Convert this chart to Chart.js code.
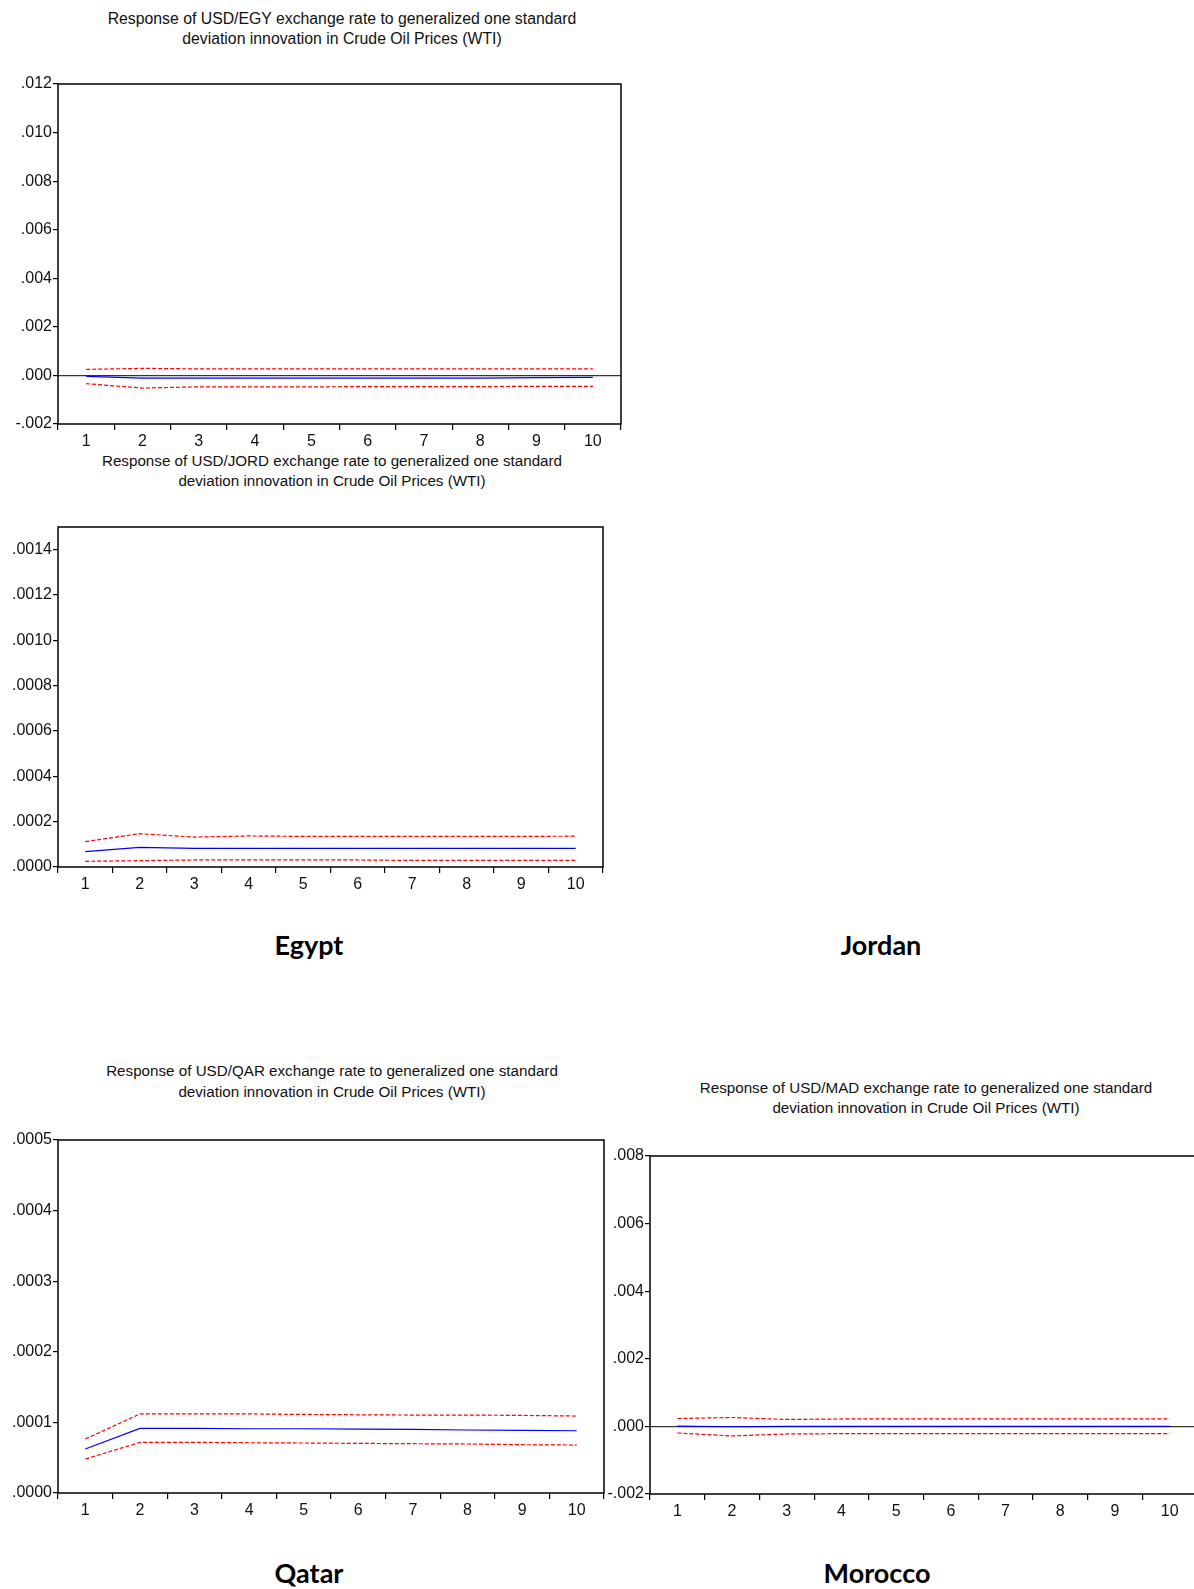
<!DOCTYPE html>
<html>
<head>
<meta charset="utf-8">
<script src="https://cdn.jsdelivr.net/npm/chart.js@4/dist/chart.umd.min.js"></script>
<style>
  html, body { margin: 0; padding: 0; background: #fff; overflow: hidden; }
  body { width: 1194px; height: 1589px; position: relative; }
  canvas { position: absolute; }
  .title { position: absolute; width: 640px; text-align: center; font-family: "Liberation Sans", Arial, sans-serif; font-size: 15.2px; color: #111; white-space: nowrap; }
  .country { position: absolute; width: 300px; text-align: center; font-family: Lato, "Noto Sans", sans-serif; font-weight: bold; font-size: 27px; line-height: 30px; color: #000; }
</style>
</head>
<body>

<div class="title" style="left:22px; top:9px; line-height:20px; font-size:15.8px;">Response of USD/EGY exchange rate to generalized one standard<br>deviation innovation in Crude Oil Prices (WTI)</div>
<div class="title" style="left:12px; top:451px; line-height:19.5px;">Response of USD/JORD exchange rate to generalized one standard<br>deviation innovation in Crude Oil Prices (WTI)</div>
<div class="title" style="left:12px; top:1060px; line-height:21px;">Response of USD/QAR exchange rate to generalized one standard<br>deviation innovation in Crude Oil Prices (WTI)</div>
<div class="title" style="left:606px; top:1078px; line-height:20px;">Response of USD/MAD exchange rate to generalized one standard<br>deviation innovation in Crude Oil Prices (WTI)</div>

<canvas id="egy" style="left:0px; top:60px;"></canvas>
<canvas id="jor" style="left:0px; top:500px;"></canvas>
<canvas id="qat" style="left:0px; top:1110px;"></canvas>
<canvas id="mor" style="left:590px; top:1120px;"></canvas>

<div class="country" style="left:159px; top:930px;">Egypt</div>
<div class="country" style="left:731px; top:930px;">Jordan</div>
<div class="country" style="left:159px; top:1558px;">Qatar</div>
<div class="country" style="left:727px; top:1558px;">Morocco</div>

<script>
// periods after the shock
const periods = ['1', '2', '3', '4', '5', '6', '7', '8', '9', '10'];

// Egypt (USD/EGY)
const egyResponse = [-0.00004, -0.00011, -0.00011, -0.00011, -0.00011, -0.00011, -0.00011, -0.00011, -0.00009, -0.00008];
const egyUpper = [0.00025, 0.00029, 0.00027, 0.00027, 0.00027, 0.00027, 0.00027, 0.00027, 0.00027, 0.00027];
const egyLower = [-0.00034, -0.00052, -0.00047, -0.00047, -0.00047, -0.00046, -0.00046, -0.00046, -0.00045, -0.00045];

// Jordan (USD/JORD)
const jorResponse = [0.0000676, 0.0000868, 0.0000824, 0.0000824, 0.0000824, 0.0000824, 0.0000824, 0.0000824, 0.0000824, 0.0000824];
const jorUpper = [0.000112, 0.000147, 0.000132, 0.000137, 0.000135, 0.000135, 0.000135, 0.000135, 0.000135, 0.000136];
const jorLower = [0.000025, 0.000028, 0.000031, 0.000031, 0.000031, 0.000031, 0.000029, 0.000029, 0.000029, 0.000029];

// Qatar (USD/QAR)
const qatResponse = [0.0000623, 0.0000915, 0.0000915, 0.0000910, 0.0000910, 0.0000906, 0.0000901, 0.0000892, 0.0000887, 0.0000882];
const qatUpper = [0.0000764, 0.000112, 0.000112, 0.000112, 0.0001113, 0.0001108, 0.0001104, 0.0001104, 0.0001099, 0.000109];
const qatLower = [0.0000481, 0.0000717, 0.0000717, 0.0000712, 0.0000708, 0.0000703, 0.0000698, 0.0000694, 0.0000684, 0.0000679];

// Morocco (USD/MAD)
const morResponse = [0.00001, -0.00001, 0, 0, 0, 0, 0, 0, 0, 0];
const morUpper = [0.000234, 0.000263, 0.000205, 0.00022, 0.00022, 0.00022, 0.00022, 0.00022, 0.00022, 0.00022];
const morLower = [-0.000195, -0.000283, -0.000224, -0.000215, -0.000215, -0.000215, -0.000215, -0.000215, -0.000215, -0.000215];

// y axis ranges and tick steps
const egyAxis = { min: -0.002, max: 0.012, step: 0.002, digits: 3 };
const jorAxis = { min: 0, max: 0.0015, step: 0.0002, digits: 4 };
const qatAxis = { min: 0, max: 0.0005, step: 0.0001, digits: 4 };
const morAxis = { min: -0.002, max: 0.008, step: 0.002, digits: 3 };

const boxPlugin = {
  id: 'box',
  afterDraw(chart) {
    const a = chart.chartArea;
    const ctx = chart.ctx;
    ctx.save();
    ctx.strokeStyle = '#000';
    ctx.lineWidth = 1.5;
    ctx.strokeRect(a.left, a.top, a.right - a.left, a.bottom - a.top);
    ctx.restore();
  }
};

function fmt(v, digits) {
  let s = Number(v).toFixed(digits);
  return s.replace('0.', '.');
}

function makeChart(id, w, h, pad, axis, resp, upper, lower, zeroLine) {
  const el = document.getElementById(id);
  el.width = w;
  el.height = h;
  el.style.width = w + 'px';
  el.style.height = h + 'px';
  const font = { family: '"Liberation Sans", Arial, sans-serif', size: 16 };
  return new Chart(el, {
    type: 'line',
    data: {
      labels: periods,
      datasets: [
        { data: resp, borderColor: '#0000ff', borderWidth: 1.2, pointRadius: 0, tension: 0 },
        { data: upper, borderColor: '#ff0000', borderWidth: 1.2, borderDash: [4, 2], pointRadius: 0, tension: 0 },
        { data: lower, borderColor: '#ff0000', borderWidth: 1.2, borderDash: [4, 2], pointRadius: 0, tension: 0 }
      ]
    },
    options: {
      responsive: false,
      animation: false,
      layout: { padding: { left: 0, right: pad.right, top: pad.top, bottom: 0 } },
      plugins: { legend: { display: false }, tooltip: { enabled: false } },
      scales: {
        x: {
          offset: true,
          grid: { offset: true, drawOnChartArea: false, drawTicks: true, tickLength: 6, color: '#000', lineWidth: 1.2 },
          border: { display: false },
          ticks: { color: '#111', font: font, padding: 2, maxRotation: 0, autoSkip: false },
          afterFit(scale) { scale.height = pad.xh; }
        },
        y: {
          min: axis.min,
          max: axis.max,
          grid: {
            drawOnChartArea: zeroLine,
            drawTicks: true,
            tickLength: 5,
            tickColor: '#000',
            lineWidth: 1.2,
            color: (c) => (c.tick && Math.abs(c.tick.value) < 1e-12 ? '#333' : 'rgba(0,0,0,0)')
          },
          border: { display: false },
          ticks: {
            stepSize: axis.step,
            includeBounds: false,
            color: '#111',
            font: font,
            padding: 1,
            callback: (v) => fmt(v, axis.digits)
          },
          afterFit(scale) { scale.width = pad.yw; }
        }
      }
    },
    plugins: [boxPlugin]
  });
}

// canvas origins: egy (0,60), jor (0,500), qat (0,1110), mor (590,1120)
makeChart('egy', 640, 400, { top: 24, right: 19, xh: 36, yw: 58 }, egyAxis, egyResponse, egyUpper, egyLower, true);
makeChart('jor', 640, 403, { top: 27, right: 37, xh: 36, yw: 58 }, jorAxis, jorResponse, jorUpper, jorLower, false);
makeChart('qat', 640, 419, { top: 30, right: 36, xh: 36, yw: 58 }, qatAxis, qatResponse, qatUpper, qatLower, false);
makeChart('mor', 640, 410, { top: 36, right: 33, xh: 36, yw: 60 }, morAxis, morResponse, morUpper, morLower, true);
</script>
</body>
</html>
